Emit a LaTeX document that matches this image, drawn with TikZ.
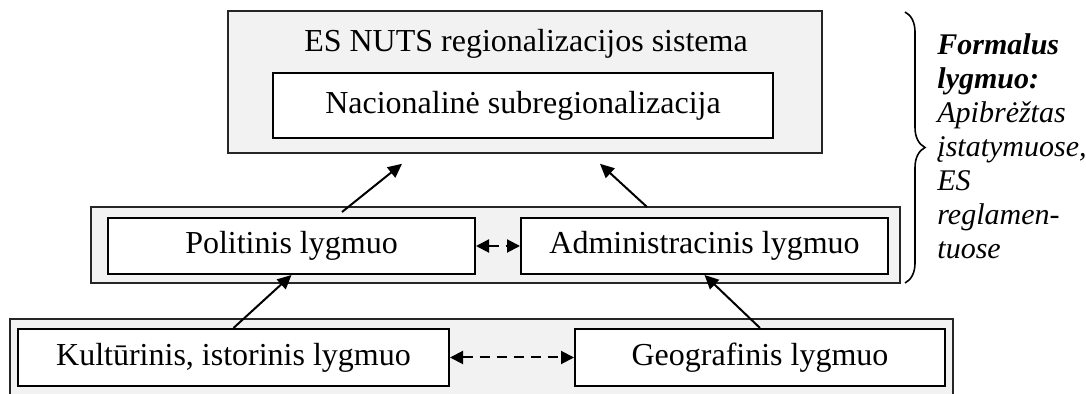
\documentclass[tikz,border=0pt]{standalone}
\usepackage{fontspec}
\setmainfont{Liberation Serif}[ItalicFont={Liberation Serif Italic},BoldItalicFont={Liberation Serif Bold Italic}]
\usetikzlibrary{arrows.meta,decorations.pathreplacing}

\begin{document}
\begin{tikzpicture}[x=0.5pt,y=-0.5pt,
	outer/.style={draw=black!85,line width=0.8pt,fill=black!5,inner sep=0pt},
	inner/.style={draw,line width=1pt,fill=white,inner sep=0pt,font=\fontsize{16}{19}\selectfont},
	arr/.style={line width=1pt,-{Triangle[length=7pt,width=6.5pt]}},
	darr/.style={line width=1pt,dash pattern=on 5pt off 3.5pt,{Triangle[length=6.5pt,width=6.5pt]}-{Triangle[length=6.5pt,width=6.5pt]}}]
	\useasboundingbox (0,0) rectangle (1086,394);
	% formal level
	\node[outer,minimum width=297pt,minimum height=71pt] (nuts) at (525,82) {};
	\node[anchor=base,inner sep=0pt,font=\fontsize{16}{19}\selectfont] (title) at (526,52) {ES NUTS regionalizacijos sistema};
	\node[inner,minimum width=250pt,minimum height=32.5pt] (nac) at (523,105.5) {Nacionalinė subregionalizacija};
	% middle level
	\node[outer,minimum width=404.5pt,minimum height=38pt] (mid) at (495.5,245) {};
	\node[inner,minimum width=183.5pt,minimum height=28pt] (pol) at (291.5,246) {Politinis lygmuo};
	\node[inner,minimum width=183.5pt,minimum height=28pt] (adm) at (704.5,246) {Administracinis lygmuo};
	% bottom level
	\node[outer,minimum width=471.5pt,minimum height=45.5pt] (bot) at (481.5,364.5) {};
	\node[inner,minimum width=215.5pt,minimum height=28.5pt] (kult) at (233.5,357.5) {Kultūrinis, istorinis lygmuo};
	\node[inner,minimum width=185pt,minimum height=28.5pt] (geo) at (760,357.5) {Geografinis lygmuo};
	% arrows
	\draw[arr] ([xshift=25.25pt,yshift=2.5pt]pol.north) -- ([xshift=-61.5pt,yshift=-5pt]nuts.south);
	\draw[arr] ([xshift=-28.75pt,yshift=5pt]adm.north) -- ([xshift=37.5pt,yshift=-5pt]nuts.south);
	\draw[arr] (kult.north) -- (pol.south);
	\draw[arr] (geo.north) -- (adm.south);
	\draw[darr] (pol.east) -- (adm.west);
	\draw[darr] (kult.east) -- (geo.west);
	% brace and note
	\coordinate (btop) at (905,12);
	\coordinate (bbot) at (905,283);
	\draw[line width=0.8pt,decorate,decoration={brace,amplitude=10pt}] (btop) -- (bbot);
	\node[anchor=north west,inner sep=0pt,align=left,font=\fontsize{15}{17}\selectfont\itshape] (note) at (937,33)
		{\textbf{Formalus}\\ \textbf{lygmuo:}\\ Apibrėžtas\\ įstatymuose,\\ ES\\ reglamen-\\ tuose};
\end{tikzpicture}
\end{document}
